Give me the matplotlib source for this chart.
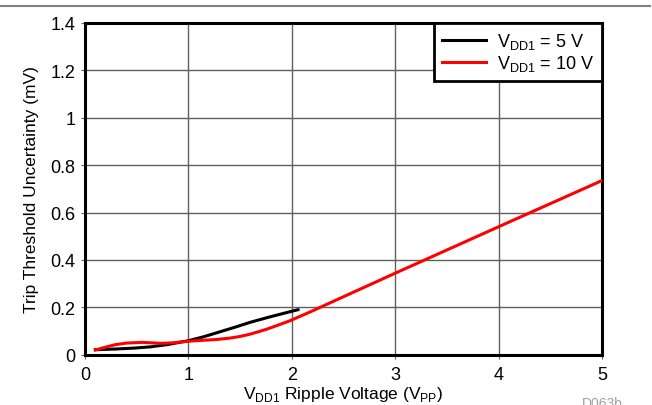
import matplotlib.pyplot as plt
from matplotlib.lines import Line2D

plt.rcParams['font.family'] = ['Liberation Sans', 'DejaVu Sans']
plt.rcParams['mathtext.fontset'] = 'custom'
plt.rcParams['mathtext.rm'] = 'Liberation Sans'

# values
ripple_5v = [0.1, 0.3, 0.48, 0.63, 0.8, 1.0, 1.15, 1.27, 1.45, 1.6, 1.8, 2.06]
unc_5v = [0.021, 0.024, 0.028, 0.033, 0.043, 0.059, 0.076, 0.092, 0.116, 0.137, 0.161, 0.19]

ripple_10v = [0.1, 0.2, 0.29, 0.4, 0.55, 0.65, 0.74, 0.85, 1.0, 1.15, 1.27, 1.4, 1.5, 1.6, 1.7, 1.76, 1.85, 1.98, 2.08, 2.18, 2.3, 3.0, 4.0, 5.0]
unc_10v = [0.02, 0.032, 0.042, 0.049, 0.052, 0.050, 0.048, 0.050, 0.057, 0.061, 0.064, 0.070, 0.077, 0.087, 0.100, 0.108, 0.122, 0.143, 0.162, 0.181, 0.205, 0.344, 0.54, 0.735]

x_ticks = [0, 1, 2, 3, 4, 5]
y_ticks = [0, 0.2, 0.4, 0.6, 0.8, 1, 1.2, 1.4]
y_labels = ["0", "0.2", "0.4", "0.6", "0.8", "1", "1.2", "1.4"]

fig = plt.figure(figsize=(6.52, 4.06), dpi=100)
ax = fig.add_axes([0.1304, 0.1239, 0.7929, 0.8170])

fig.add_artist(Line2D([0, 0.997], [0.983, 0.983], color='#808080', lw=1.5))

ax.plot(ripple_5v, unc_5v, color='black', lw=2.2, label=r'V$_{\mathregular{DD1}}$ = 5 V', zorder=3)
ax.plot(ripple_10v, unc_10v, color='#ff0000', lw=2.2, label=r'V$_{\mathregular{DD1}}$ = 10 V', zorder=3)

ax.set_xlim(0, 5)
ax.set_ylim(0, 1.4)
ax.set_xticks(x_ticks)
ax.set_yticks(y_ticks)
ax.set_yticklabels(y_labels)
ax.grid(True, color='#606060', lw=1)
ax.tick_params(axis='both', length=3, color='#606060', labelsize=13)
ax.tick_params(axis='x', pad=5)
ax.tick_params(axis='y', pad=4)
for s in ax.spines.values():
    s.set_linewidth(2.2)
    s.set_color('black')

ax.set_xlabel(r'V$_{\mathregular{DD1}}$ Ripple Voltage (V$_{\mathregular{PP}}$)', fontsize=12.5, labelpad=1)
ax.set_ylabel('Trip Threshold Uncertainty (mV)', fontsize=12.5, labelpad=8)

leg = ax.legend(loc='upper right', bbox_to_anchor=(1, 1), borderaxespad=0, fontsize=13,
                fancybox=False, handlelength=2.4, handletextpad=0.6, labelspacing=0.12, borderpad=0.45)
leg.get_frame().set_edgecolor('black')
leg.get_frame().set_linewidth(2)
leg.get_frame().set_alpha(1)

fig.text(0.892, -0.004, 'D063b', fontsize=10, color='#a0a0a0')

fig.savefig('out.png', dpi=100)
